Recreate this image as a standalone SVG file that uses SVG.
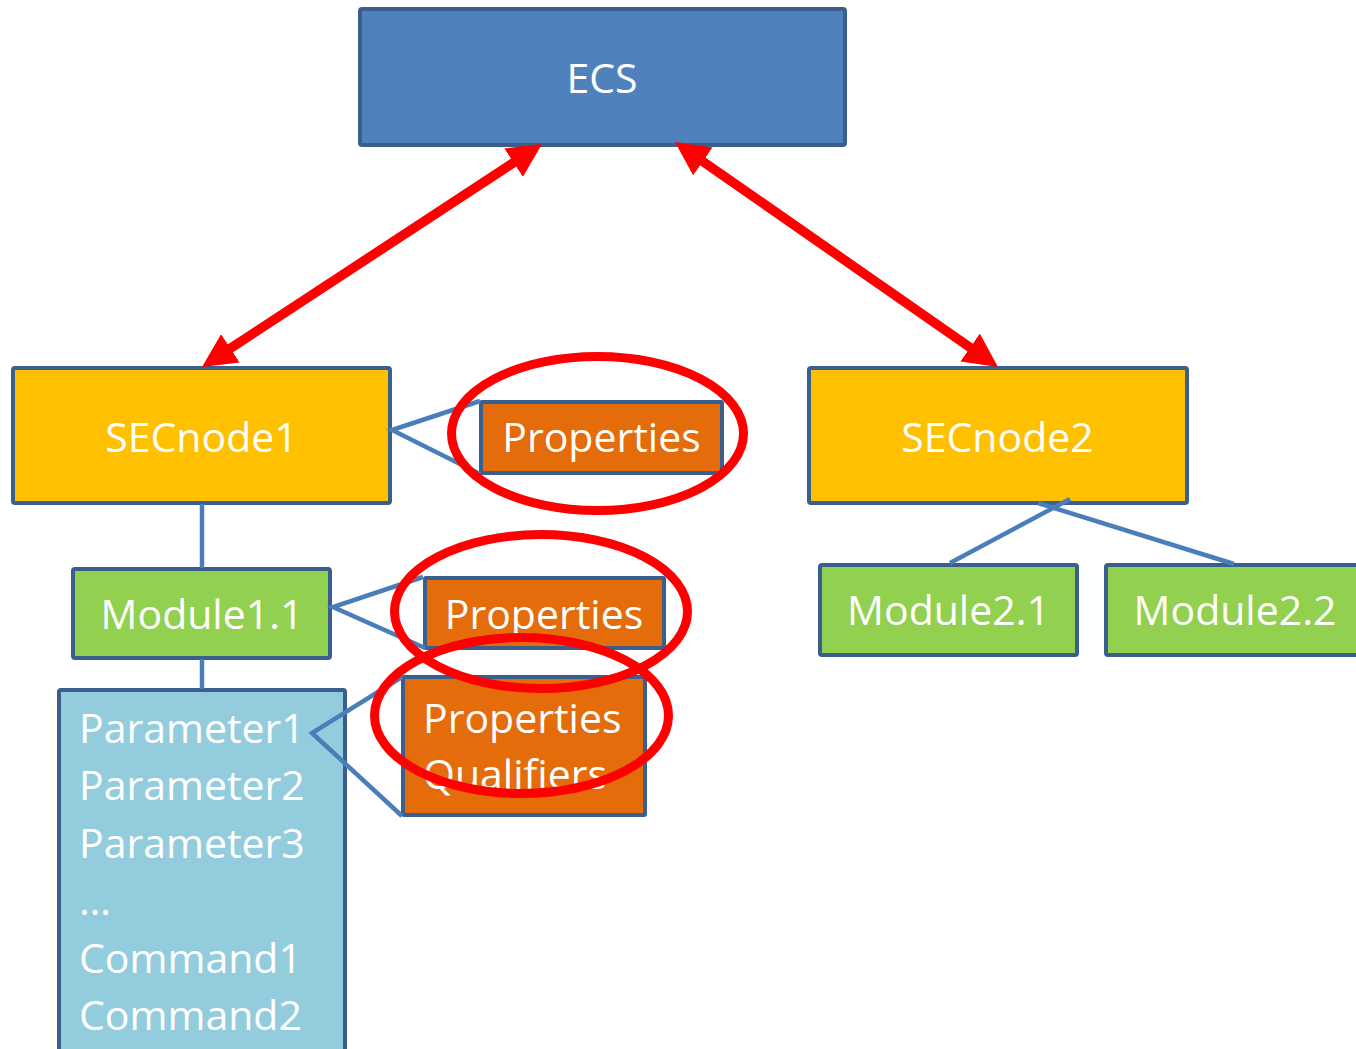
<svg xmlns="http://www.w3.org/2000/svg" width="1356" height="1049" viewBox="0 0 1356 1049">
  <style>
    .box { stroke: #3b5f8d; stroke-width: 4; }
    .ecs { fill: #4f81bd; }
    .sec { fill: #ffc000; }
    .mod { fill: #92d050; }
    .prop { fill: #e46c0a; }
    .par { fill: #93cddd; }
    .lbl { font-family: "Open Sans", "Noto Sans", sans-serif; font-size: 41px; fill: #ffffff; }
    .mid { text-anchor: middle; }
    .tree { stroke: #4a7ebb; stroke-width: 4.5; fill: none; }
    .link { stroke: #ff0000; stroke-width: 9.5; fill: none; marker-start: url(#head); marker-end: url(#head); }
    .ring { stroke: #ff0000; stroke-width: 9; fill: none; }
  </style>
  <defs>
    <marker id="head" viewBox="0 0 34 34" refX="9" refY="17" markerWidth="34" markerHeight="34" markerUnits="userSpaceOnUse" orient="auto-start-reverse">
      <path d="M0,0 L34,17 L0,34 Z" fill="#ff0000"/>
    </marker>
  </defs>
  <rect width="1356" height="1049" fill="#ffffff"/>

  <g id="ECS">
    <rect class="box ecs" x="360" y="9" width="485" height="136" rx="2"/>
    <text class="lbl mid" x="602" y="93">ECS</text>
  </g>
  <g id="SECnode1">
    <rect class="box sec" x="13" y="368" width="377" height="135" rx="2"/>
    <text class="lbl mid" x="201.5" y="452">SECnode1</text>
  </g>
  <g id="SECnode2">
    <rect class="box sec" x="809" y="368" width="378" height="135" rx="2"/>
    <text class="lbl mid" x="997.5" y="452">SECnode2</text>
  </g>
  <g id="Properties1">
    <rect class="box prop" x="481" y="402" width="241" height="71" rx="1"/>
    <text class="lbl mid" x="601.5" y="452">Properties</text>
  </g>
  <g id="Module1.1">
    <rect class="box mod" x="73" y="569" width="257" height="89" rx="2"/>
    <text class="lbl mid" x="202" y="629">Module1.1</text>
  </g>
  <g id="Properties2">
    <rect class="box prop" x="425" y="578" width="239" height="70" rx="1"/>
    <text class="lbl mid" x="544" y="628.5">Properties</text>
  </g>
  <g id="Module2.1">
    <rect class="box mod" x="820" y="565" width="257" height="90" rx="2"/>
    <text class="lbl mid" x="948.5" y="625">Module2.1</text>
  </g>
  <g id="Module2.2">
    <rect class="box mod" x="1106" y="565" width="257" height="90" rx="2"/>
    <text class="lbl mid" x="1235" y="625">Module2.2</text>
  </g>
  <g id="Parameters">
    <rect class="box par" x="59" y="690" width="286" height="420" rx="2"/>
    <text class="lbl" x="79" y="743">Parameter1</text>
    <text class="lbl" x="79" y="800">Parameter2</text>
    <text class="lbl" x="79" y="858">Parameter3</text>
    <text class="lbl" x="79" y="915">…</text>
    <text class="lbl" x="79" y="973">Command1</text>
    <text class="lbl" x="79" y="1030">Command2</text>
  </g>
  <g id="PropertiesQualifiers">
    <rect class="box prop" x="403" y="677" width="242" height="138" rx="1"/>
    <text class="lbl" x="423" y="733">Properties</text>
    <text class="lbl" x="423" y="789">Qualifiers</text>
  </g>

  <g id="connectors">
    <line class="tree" x1="202" y1="504" x2="202" y2="568"/>
    <line class="tree" x1="202" y1="659" x2="202" y2="689"/>
    <polyline class="tree" points="480,401 392,430 480,474"/>
    <polyline class="tree" points="423,577 333,607 425,648"/>
    <polyline class="tree" points="402,677 312,733 402,816"/>
    <line class="tree" x1="950" y1="563" x2="1070" y2="499"/>
    <line class="tree" x1="1038" y1="503" x2="1234" y2="564"/>
    <line class="link" x1="521.1" y1="157.7" x2="222.9" y2="353.3"/>
    <line class="link" x1="695.5" y1="156.3" x2="977.5" y2="352.7"/>
  </g>

  <g id="highlights">
    <ellipse class="ring" cx="597.5" cy="433.5" rx="146" ry="77"/>
    <ellipse class="ring" cx="541" cy="611.5" rx="146.5" ry="77"/>
    <ellipse class="ring" cx="521.5" cy="715.5" rx="147" ry="78"/>
  </g>
</svg>
